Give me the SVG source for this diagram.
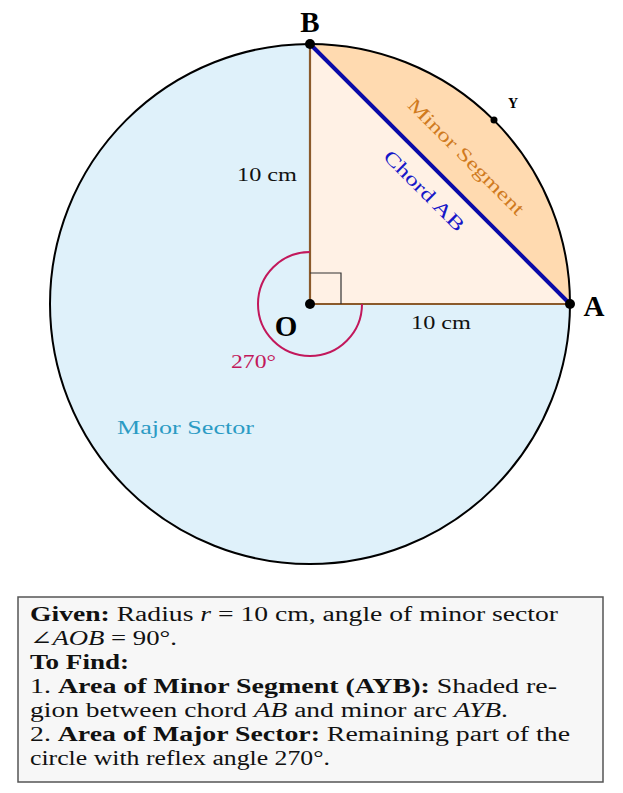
<svg xmlns="http://www.w3.org/2000/svg" width="623" height="793" viewBox="0 0 623 793">
<style>
text{font-family:"Liberation Serif","DejaVu Serif",serif;}
.lbl{font-size:19px;fill:#111;}
.pt{font-weight:bold;fill:#000;font-size:29px;}
.box{font-size:20px;fill:#111;}
.b{font-weight:bold;}
.i{font-style:italic;}
</style>
<g id="circle">
<circle cx="310" cy="304" r="260" fill="#dff1fa" stroke="none"/>
</g>
<g id="triangle">
<path d="M310 304 L570 304 L310 44 Z" fill="#fff1e5"/>
</g>
<g id="minor-segment">
<path d="M570 304 A260 260 0 0 0 310 44 Z" fill="#ffdab0"/>
</g>
<g id="outline">
<circle cx="310" cy="304" r="260" fill="none" stroke="#000" stroke-width="2"/>
</g>
<g id="connectors">
<line x1="310" y1="304" x2="570" y2="304" stroke="#8b5a2b" stroke-width="2.2"/>
<line x1="310" y1="304" x2="310" y2="44" stroke="#8b5a2b" stroke-width="2.2"/>
<line x1="310" y1="44" x2="570" y2="304" stroke="#0a0aa8" stroke-width="4"/>
<path d="M310 273 H341 V304" fill="none" stroke="#333" stroke-width="1.2"/>
<path d="M310 252 A52 52 0 1 0 362 304" fill="none" stroke="#c2185b" stroke-width="2"/>
</g>
<g id="points">
<circle cx="310" cy="44" r="5" fill="#000"/>
<circle cx="570" cy="304" r="5" fill="#000"/>
<circle cx="310" cy="304" r="5" fill="#000"/>
<circle cx="494" cy="120" r="3.5" fill="#000"/>
</g>
<g id="labels">
<text x="310" y="32" text-anchor="middle" class="pt">B</text>
<text x="594" y="316" text-anchor="middle" class="pt">A</text>
<text x="286" y="336" text-anchor="middle" class="pt">O</text>
<text x="513" y="108" text-anchor="middle" font-weight="bold" font-size="14">Y</text>
<text x="237" y="181" class="lbl" textLength="60" lengthAdjust="spacingAndGlyphs">10 cm</text>
<text x="411" y="329" class="lbl" textLength="60" lengthAdjust="spacingAndGlyphs">10 cm</text>
<text x="231" y="368" font-size="19" fill="#c2185b" textLength="45" lengthAdjust="spacingAndGlyphs">270°</text>
<text x="117" y="434" font-size="19" fill="#2b9bc4" textLength="137" lengthAdjust="spacingAndGlyphs">Major Sector</text>
<text x="-78" y="6" font-size="19" fill="#d07a1e" transform="translate(466 157) rotate(45)" textLength="156" lengthAdjust="spacingAndGlyphs">Minor Segment</text>
<text x="-53" y="6" font-size="19" fill="#1616c8" transform="translate(424 191) rotate(45)" textLength="106" lengthAdjust="spacingAndGlyphs">Chord AB</text>
</g>
<g id="info-box">
<rect x="18" y="597" width="585" height="185" fill="#f7f7f7" stroke="#555" stroke-width="1.5"/>
<text class="box" x="30" y="621" textLength="528" lengthAdjust="spacingAndGlyphs"><tspan class="b">Given:</tspan> Radius <tspan class="i">r</tspan> = 10 cm, angle of minor sector</text>
<text class="box" x="30" y="645" textLength="147" lengthAdjust="spacingAndGlyphs">∠<tspan class="i">AOB</tspan> = 90°.</text>
<text class="box b" x="30" y="669" textLength="99" lengthAdjust="spacingAndGlyphs">To Find:</text>
<text class="box" x="30" y="693" textLength="527" lengthAdjust="spacingAndGlyphs">1. <tspan class="b">Area of Minor Segment (AYB):</tspan> Shaded re-</text>
<text class="box" x="30" y="717" textLength="478" lengthAdjust="spacingAndGlyphs">gion between chord <tspan class="i">AB</tspan> and minor arc <tspan class="i">AYB</tspan>.</text>
<text class="box" x="30" y="741" textLength="540" lengthAdjust="spacingAndGlyphs">2. <tspan class="b">Area of Major Sector:</tspan> Remaining part of the</text>
<text class="box" x="30" y="765" textLength="300" lengthAdjust="spacingAndGlyphs">circle with reflex angle 270°.</text>
</g>
</svg>
